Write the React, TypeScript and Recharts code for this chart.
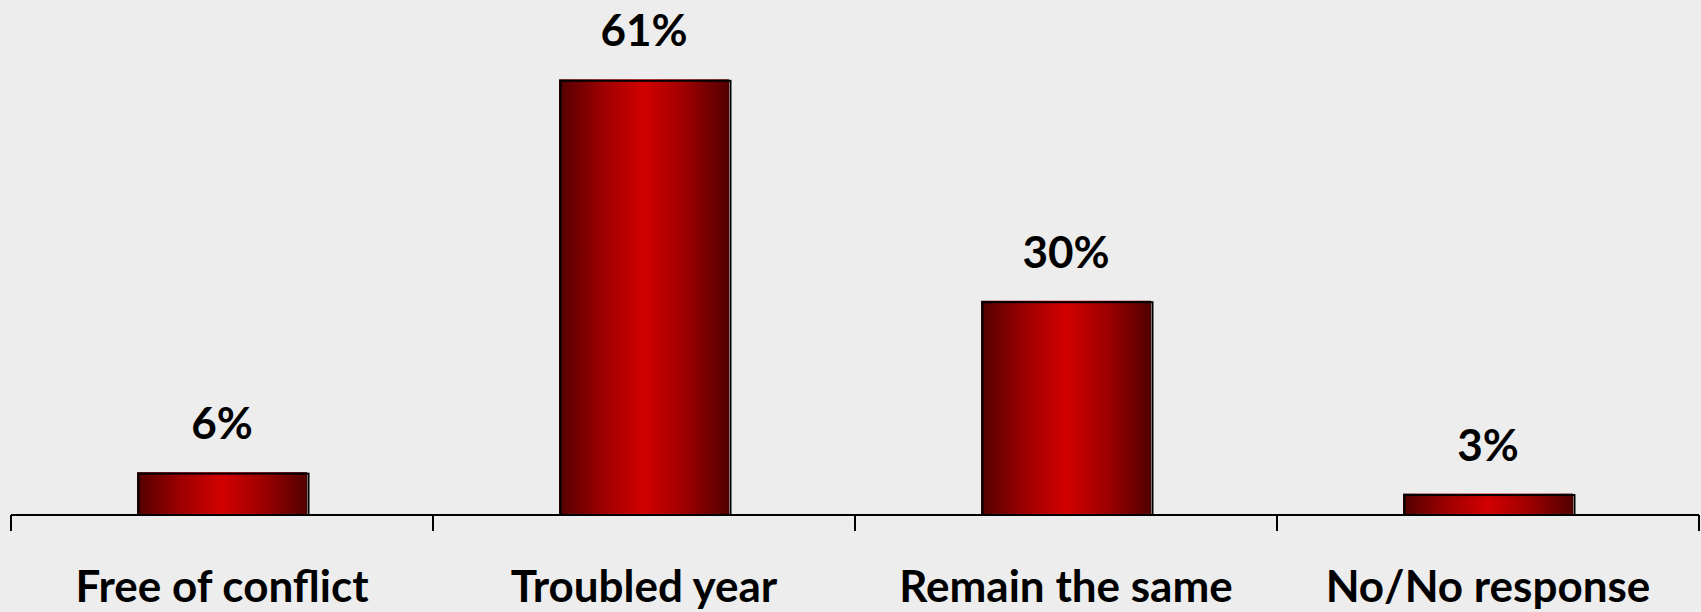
import React from 'react';
import { BarChart, Bar, XAxis, YAxis, LabelList } from 'recharts';

const categories = ['Free of conflict', 'Troubled year', 'Remain the same', 'No/No response'];
const shares = [6, 61, 30, 3];

const data = categories.map((name, i) => ({ name, value: shares[i] }));

const FONT = "Lato, 'Noto Sans', sans-serif";

// label at band centre, tick marks at band edges
const EdgeTick = (props: any) => {
  const { x, y, payload, index } = props;
  const half = payload && payload.offset ? payload.offset : 211;
  const top = y - 10;
  return (
    <g>
      <line x1={x - half} y1={top} x2={x - half} y2={top + 16} stroke="#000" strokeWidth={2} />
      {index === categories.length - 1 && (
        <line x1={x + half} y1={top} x2={x + half} y2={top + 16} stroke="#000" strokeWidth={2} />
      )}
      <text
        x={x}
        y={y + 46}
        dy="0.71em"
        textAnchor="middle"
        fontFamily={FONT}
        fontWeight={700}
        fontSize={44}
        fill="#000"
      >
        {payload.value}
      </text>
    </g>
  );
};

const ShadedBar = (props: any) => {
  const { x, y, width, height } = props;
  if (!height || height <= 0) return null;
  return (
    <g>
      <rect x={x} y={y} width={width} height={height} fill="url(#barShade)" />
      <rect
        x={x + 1.5}
        y={y + 1.5}
        width={width}
        height={height - 1.5}
        fill="none"
        stroke="#000"
        strokeWidth={2}
      />
    </g>
  );
};

export default function App() {
  return (
    <div style={{ position: 'absolute', left: 0, top: 0, width: 1701, height: 612, background: '#ededed' }}>
      <BarChart width={1701} height={612} data={data} margin={{ top: 15, right: 2, bottom: 0, left: 11 }} barSize={170}>
        <defs>
          <linearGradient id="barShade" x1="0" y1="0" x2="1" y2="0">
            <stop offset="0%" stopColor="#520000" />
            <stop offset="25%" stopColor="#9c0000" />
            <stop offset="50%" stopColor="#d20000" />
            <stop offset="75%" stopColor="#9c0000" />
            <stop offset="100%" stopColor="#520000" />
          </linearGradient>
        </defs>
        <XAxis
          dataKey="name"
          height={97}
          tickLine={false}
          axisLine={{ stroke: '#000', strokeWidth: 2 }}
          tick={<EdgeTick />}
          tickSize={0}
          tickMargin={10}
          interval={0}
        />
        <YAxis hide domain={[0, 70]} />
        <Bar dataKey="value" shape={<ShadedBar />} isAnimationActive={false}>
          <LabelList
            dataKey="value"
            position="top"
            offset={33}
            formatter={(v: any) => `${v}%`}
            fill="#000"
            fontFamily={FONT}
            fontWeight={700}
            fontSize={44}
          />
        </Bar>
      </BarChart>
    </div>
  );
}
